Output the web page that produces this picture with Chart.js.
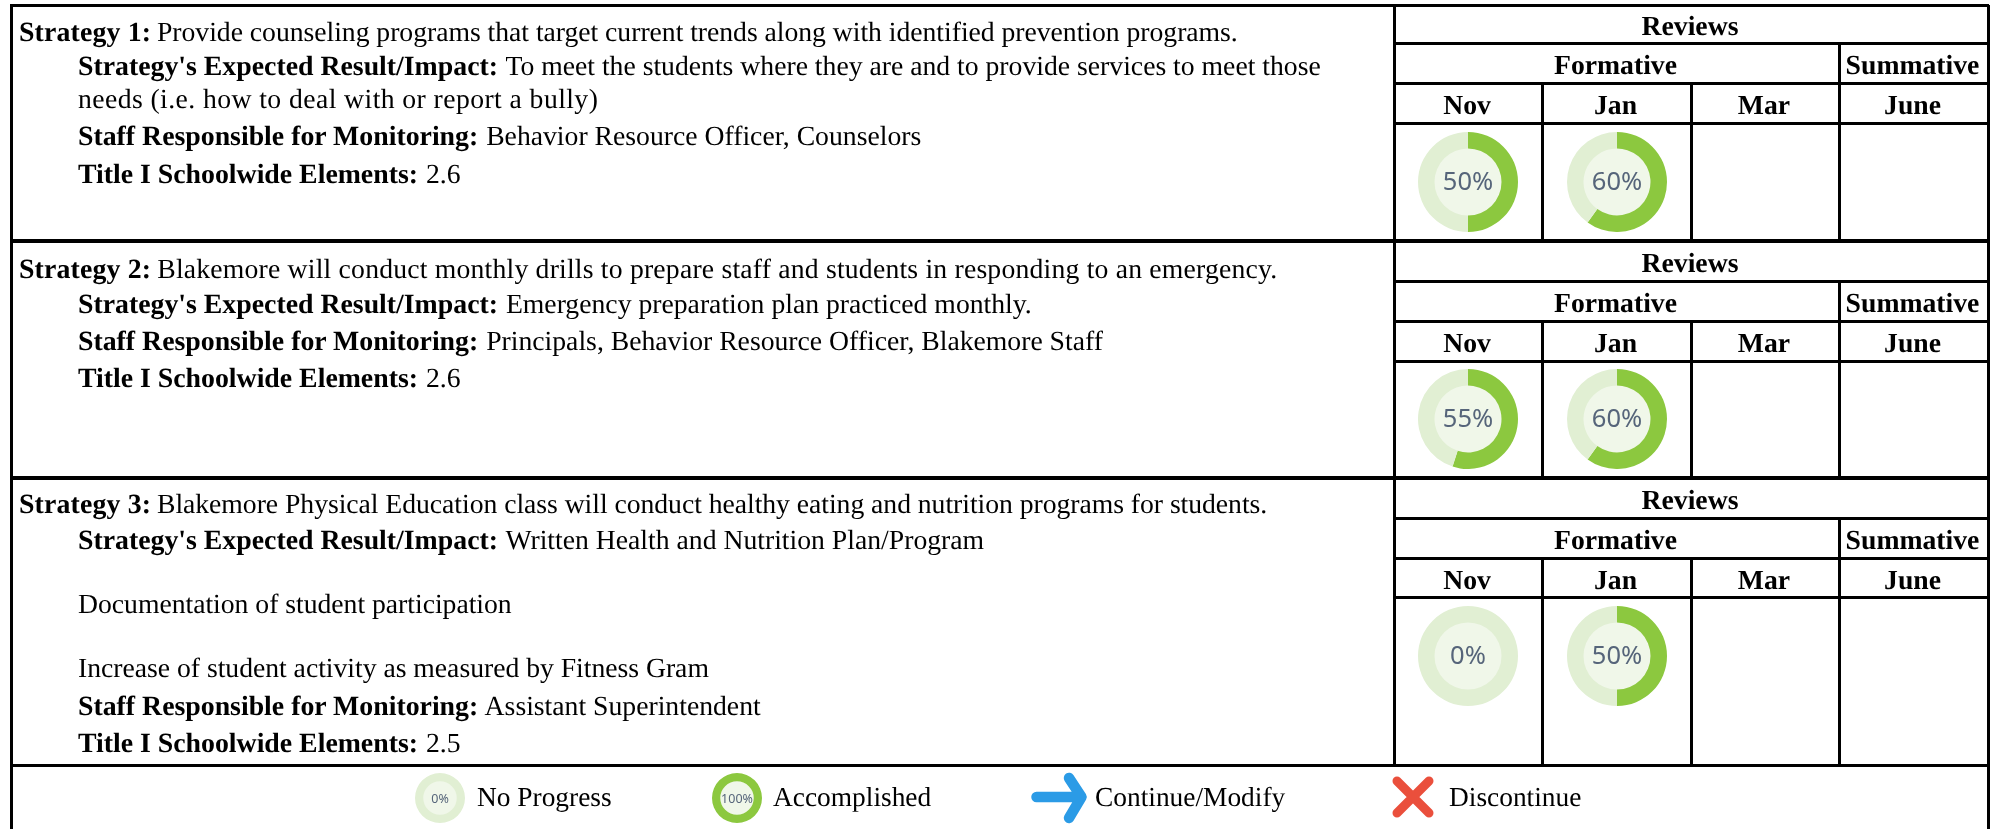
<!DOCTYPE html>
<html><head><meta charset="utf-8">
<script src="https://cdn.jsdelivr.net/npm/chart.js@4"></script>
<style>
html,body{margin:0;padding:0;background:#fff;width:1997px;height:829px;overflow:hidden}
#page{position:relative;width:1997px;height:829px;font-family:"Liberation Serif",serif;color:#000;filter:blur(0.4px);text-rendering:geometricPrecision}
.ln{position:absolute;background:#000}
.t{position:absolute;white-space:nowrap;font-size:27.7px;line-height:30px}
.t b{font-size:27.8px;margin-right:1px}
.h{position:absolute;text-align:center;font-weight:bold;font-size:27.7px;line-height:30px;white-space:nowrap}
.l{position:absolute;white-space:nowrap;font-size:27.4px;line-height:30px}
canvas{position:absolute}
svg{position:absolute}
</style></head><body><div id="page"></div>
<script>
// ---- data ----
const reviewTitle = "Reviews";
const reviewGroups = ["Formative", "Summative"];
const months = ["Nov", "Jan", "Mar", "June"];
const strategy1Values = [50, 60, null, null];
const strategy2Values = [55, 60, null, null];
const strategy3Values = [0, 50, null, null];
const legendValues = [0, 100];
const legendLabels = ["No Progress", "Accomplished", "Continue/Modify", "Discontinue"];
const strategy1Text = [
 ["Strategy 1:", " Provide counseling programs that target current trends along with identified prevention programs."],
 ["Strategy's Expected Result/Impact:", " To meet the students where they are and to provide services to meet those"],
 ["", "needs (i.e. how to deal with or report a bully)"],
 ["Staff Responsible for Monitoring:", " Behavior Resource Officer, Counselors"],
 ["Title I Schoolwide Elements:", " 2.6"]];
const strategy2Text = [
 ["Strategy 2:", " Blakemore will conduct monthly drills to prepare staff and students in responding to an emergency."],
 ["Strategy's Expected Result/Impact:", " Emergency preparation plan practiced monthly."],
 ["Staff Responsible for Monitoring:", " Principals, Behavior Resource Officer, Blakemore Staff"],
 ["Title I Schoolwide Elements:", " 2.6"]];
const strategy3Text = [
 ["Strategy 3:", " Blakemore Physical Education class will conduct healthy eating and nutrition programs for students."],
 ["Strategy's Expected Result/Impact:", " Written Health and Nutrition Plan/Program"],
 ["", "Documentation of student participation"],
 ["", "Increase of student activity as measured by Fitness Gram"],
 ["Staff Responsible for Monitoring:", " Assistant Superintendent"],
 ["Title I Schoolwide Elements:", " 2.5"]];

// ---- layout ----
const page = document.getElementById("page");
const X = {left:11, mid:1394, c1:1542, c2:1691, c3:1839, right:1988};
const rows = [
 {top:5, r1:43, r2:83, r3:123, bottom:241, cy:181.7, text:strategy1Text, vals:strategy1Values, lines:[32,66,99,136,174], track:[-0.03,0,0.42,0,0]},
 {top:241, r1:281, r2:321, r3:361, bottom:478, cy:419, text:strategy2Text, vals:strategy2Values, lines:[269,304,341,378], track:[0.2,0,0,0]},
 {top:478, r1:518, r2:558, r3:597, bottom:765, cy:655.7, text:strategy3Text, vals:strategy3Values, lines:[504,540,604,668,706,743], track:[-0.04,0,-0.02,-0.02,0,0]}
];
function line(x,y,w,h){const d=document.createElement("div");d.className="ln";d.style.cssText=`left:${x}px;top:${y}px;width:${w}px;height:${h}px`;page.appendChild(d);}
function hl(y,x0,x1,t){line(x0,y-t/2,x1-x0,t);}
function vl(x,y0,y1,t){line(x-t/2,y0,t,y1-y0);}
function head(txt,x0,x1,y0,y1){const d=document.createElement("div");d.className="h";d.textContent=txt;d.style.cssText=`left:${x0-1}px;width:${x1-x0}px;top:${(y0+y1)/2-13}px`;page.appendChild(d);}
const centerPlugin = {id:"center",
 beforeDatasetsDraw(c){const a=c.getDatasetMeta(0).data[0];const x=c.ctx;x.save();x.fillStyle="#f0f7e9";x.beginPath();x.arc(a.x,a.y,a.innerRadius+1,0,Math.PI*2);x.fill();x.restore();},
 afterDatasetsDraw(c,_,o){const a=c.getDatasetMeta(0).data[0];const x=c.ctx;x.save();x.fillStyle="#56657a";x.font=`${o.size}px "Noto Sans"`;x.textAlign="center";x.textBaseline="middle";x.fillText(o.label,a.x,a.y+1);x.restore();}};
function ring(value,cx,cy,d,size){
 const cv=document.createElement("canvas");cv.width=d;cv.height=d;cv.style.cssText=`left:${cx-d/2}px;top:${cy-d/2}px;width:${d}px;height:${d}px`;page.appendChild(cv);
 new Chart(cv,{type:"doughnut",plugins:[centerPlugin],data:{labels:["Done","Remaining"],datasets:[{data:[value,100-value],backgroundColor:["#8cc83f","#e1efd3"],borderWidth:0}]},
 options:{responsive:false,animation:false,cutout:"67%",layout:{padding:0},plugins:{legend:{display:false},tooltip:{enabled:false},center:{label:value+"%",size:size}}}});
}
const colEdges=[X.mid,X.c1,X.c2,X.c3,X.right];
hl(5,X.left-1,X.right+1,3);
rows.forEach((r,i)=>{
 hl(r.r1,X.mid,X.right,3);hl(r.r2,X.mid,X.right,3);hl(r.r3,X.mid,X.right,3);
 if(i<2)hl(r.bottom,X.left-1,X.right+1,4);
 vl(X.c3,r.r1,r.bottom,3);vl(X.c1,r.r2,r.bottom,3);vl(X.c2,r.r2,r.bottom,3);
 head(reviewTitle,X.mid,X.right,r.top,r.r1);
 head(reviewGroups[0],X.mid,X.c3,r.r1,r.r2);
 head(reviewGroups[1],X.c3,X.right,r.r1,r.r2);
 months.forEach((m,j)=>head(m,colEdges[j],colEdges[j+1],r.r2,r.r3));
 r.vals.forEach((v,j)=>{if(v!==null)ring(v,(colEdges[j]+colEdges[j+1])/2,r.cy,100,25.5);});
 r.text.forEach((t,k)=>{
  const d=document.createElement("div");d.className="t";
  const first=k===0;
  d.style.cssText=`left:${first?19:78}px;top:${r.lines[k]-15}px;letter-spacing:${r.track[k]}px`;
  if(t[0]){const b=document.createElement("b");b.textContent=t[0];if(first){b.style.letterSpacing="0.15px";b.style.marginRight="-1px";}d.appendChild(b);}
  d.appendChild(document.createTextNode(t[1]));page.appendChild(d);
 });
});
hl(765,X.left-1,X.right+1,3);
vl(X.left,5,829,3);vl(X.mid,5,765,3);vl(X.right,5,829,3);
// legend
ring(legendValues[0],440.2,797.7,50,12.5);
ring(legendValues[1],737,797.7,50,12.5);
[477,773,1095,1449].forEach((x,i)=>{const d=document.createElement("div");d.className="l";d.textContent=legendLabels[i];d.style.cssText=`left:${x}px;top:${797-15}px`;page.appendChild(d);});
page.insertAdjacentHTML("beforeend",`<svg style="left:1025px;top:768px" width="70" height="60" viewBox="0 0 70 60"><path d="M11.5 29 H55 M44 10 L56.5 29 L44 50" fill="none" stroke="#2b9be6" stroke-width="10.5" stroke-linecap="round" stroke-linejoin="round"/></svg>
<svg style="left:1385px;top:769px" width="56" height="56" viewBox="0 0 56 56"><path d="M12 12 L44 44 M44 12 L12 44" fill="none" stroke="#ea4f3c" stroke-width="9" stroke-linecap="round"/></svg>`);
</script></body></html>
